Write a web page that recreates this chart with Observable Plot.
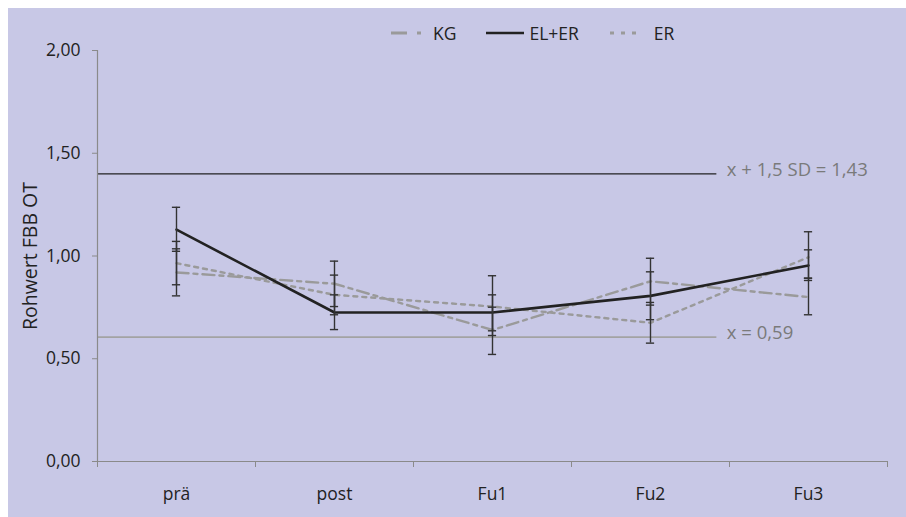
<!DOCTYPE html>
<html>
<head>
<meta charset="utf-8">
<script src="https://cdn.jsdelivr.net/npm/d3@7"></script>
<script src="https://cdn.jsdelivr.net/npm/@observablehq/plot@0.6"></script>
<style>
  html, body { margin: 0; padding: 0; background: #fff; }
  #page { position: relative; width: 906px; height: 517px; background: #fff; overflow: hidden; font-family: "Open Sans", sans-serif; }
  #bg { position: absolute; left: 8px; top: 8px; right: 0; bottom: 0; background: #c8c8e6; }
  #chart { position: absolute; left: 0; top: 0; }
  #legend { position: absolute; top: 21px; left: 391px; display: flex; align-items: center; font-size: 17.5px; color: #222; }
  #legend .item { display: flex; align-items: center; }
  #legend svg { display: block; }
</style>
</head>
<body>
<div id="page">
  <div id="bg"></div>
  <div id="chart"></div>
  <div id="legend"></div>
</div>
<script>
const categories = ["prä", "post", "Fu1", "Fu2", "Fu3"];
const seriesNames = ["KG", "EL+ER", "ER"];

const kgMean = [0.920, 0.865, 0.640, 0.877, 0.800];
const kgLow  = [0.806, 0.754, 0.521, 0.761, 0.714];
const kgHigh = [1.071, 0.975, 0.751, 0.989, 0.892];

const elerMean = [1.128, 0.725, 0.725, 0.806, 0.954];
const elerLow  = [1.023, 0.642, 0.636, 0.690, 0.881];
const elerHigh = [1.237, 0.811, 0.811, 0.923, 1.030];

const erMean = [0.965, 0.811, 0.754, 0.675, 0.994];
const erLow  = [0.860, 0.714, 0.613, 0.576, 0.892];
const erHigh = [1.035, 0.907, 0.904, 0.774, 1.118];

const yTicks = [0, 0.5, 1, 1.5, 2];

const refValues = [1.40, 0.605];
const refLabels = ["x + 1,5 SD = 1,43", "x = 0,59"];
const refEnd = 3.92; // category units where reference lines stop

const seriesStyle = {
  "KG":    {stroke: "#9a9a9a", dash: "12,5,4,5", width: 2.4},
  "EL+ER": {stroke: "#222222", dash: null, width: 2.6},
  "ER":    {stroke: "#9a9a9a", dash: "4,5", width: 2.4}
};

const means = {"KG": kgMean, "EL+ER": elerMean, "ER": erMean};
const lows = {"KG": kgLow, "EL+ER": elerLow, "ER": erLow};
const highs = {"KG": kgHigh, "EL+ER": elerHigh, "ER": erHigh};

const rows = [];
for (const s of seriesNames) {
  categories.forEach((c, i) => {
    rows.push({series: s, cat: c, xi: i + 0.5, mean: means[s][i], low: lows[s][i], high: highs[s][i]});
  });
}
const refs = refValues.map((v, i) => ({v, label: refLabels[i]}));
const capHalf = 0.026;
const fmt = d => d3.format(".2f")(d).replace(".", ",");

const lineMarks = ["KG", "ER", "EL+ER"].map(s => Plot.line(rows.filter(r => r.series === s), {
  x: "xi", y: "mean", stroke: seriesStyle[s].stroke, strokeWidth: seriesStyle[s].width,
  strokeDasharray: seriesStyle[s].dash || undefined, strokeLinejoin: "round"
}));

const chart = Plot.plot({
  width: 906,
  height: 517,
  marginLeft: 97,
  marginRight: 19,
  marginTop: 50,
  marginBottom: 56,
  style: {background: "transparent", fontFamily: "'Open Sans', sans-serif", fontSize: "17px", color: "#222"},
  x: {type: "linear", domain: [0, categories.length]},
  y: {domain: [0, 2]},
  marks: [
    Plot.ruleY(refs.slice(0, 1), {y: "v", x1: 0, x2: refEnd, stroke: "#222", strokeWidth: 1.3}),
    Plot.ruleY(refs.slice(1), {y: "v", x1: 0, x2: refEnd, stroke: "#a3a3a3", strokeWidth: 1.6}),
    Plot.text(refs, {y: "v", x: refEnd, text: "label", textAnchor: "start", dx: 10, dy: -4, fill: "#7a7a7a", fontSize: 18.5}),
    Plot.ruleX([0], {y1: 0, y2: 2, stroke: "#8a8a8a", strokeWidth: 1.2}),
    Plot.ruleY([0], {x1: 0, x2: categories.length, stroke: "#8a8a8a", strokeWidth: 1.2}),
    Plot.axisY({ticks: yTicks, tickFormat: fmt, tickSize: 5, tickPadding: 12, stroke: "#8a8a8a", fill: "#222", fontSize: 17.5, label: null}),
    Plot.axisX({ticks: d3.range(0, categories.length + 1), tickFormat: () => "", tickSize: 6, stroke: "#8a8a8a", label: null}),
    Plot.axisX({ticks: categories.map((c, i) => i + 0.5), tickFormat: d => categories[Math.round(d - 0.5)], tickSize: 0, tickPadding: 26, fill: "#222", fontSize: 17.5, label: null}),
    ...lineMarks,
    Plot.ruleX(rows, {x: "xi", y1: "low", y2: "high", stroke: "#333", strokeWidth: 1.4}),
    Plot.ruleY(rows, {y: "low", x1: d => d.xi - capHalf, x2: d => d.xi + capHalf, stroke: "#333", strokeWidth: 1.4}),
    Plot.ruleY(rows, {y: "high", x1: d => d.xi - capHalf, x2: d => d.xi + capHalf, stroke: "#333", strokeWidth: 1.4}),
    Plot.text(["Rohwert FBB OT"], {frameAnchor: "left", textAnchor: "middle", dx: -67, rotate: -90, text: d => d, fill: "#222", fontSize: 19.5})
  ]
});
document.getElementById("chart").appendChild(chart);

// Legend
const legend = document.getElementById("legend");
const swatch = {
  "KG":    {w: 30, gap: 12, after: 30, dash: "16,10,4,100"},
  "EL+ER": {w: 38, gap: 5,  after: 31, dash: null},
  "ER":    {w: 32, gap: 12, after: 0,  dash: "4,7"}
};
for (const s of seriesNames) {
  const st = seriesStyle[s];
  const sw = swatch[s];
  const item = document.createElement("div");
  item.className = "item";
  item.style.marginRight = sw.after + "px";
  item.innerHTML = `<svg width="${sw.w}" height="10" style="margin-right:${sw.gap}px"><line x1="0" y1="5" x2="${sw.w}" y2="5" stroke="${st.stroke}" stroke-width="${st.dash ? 3 : 2.6}" ${sw.dash ? `stroke-dasharray="${sw.dash}"` : ""}/></svg><span>${s}</span>`;
  legend.appendChild(item);
}
</script>
</body>
</html>
